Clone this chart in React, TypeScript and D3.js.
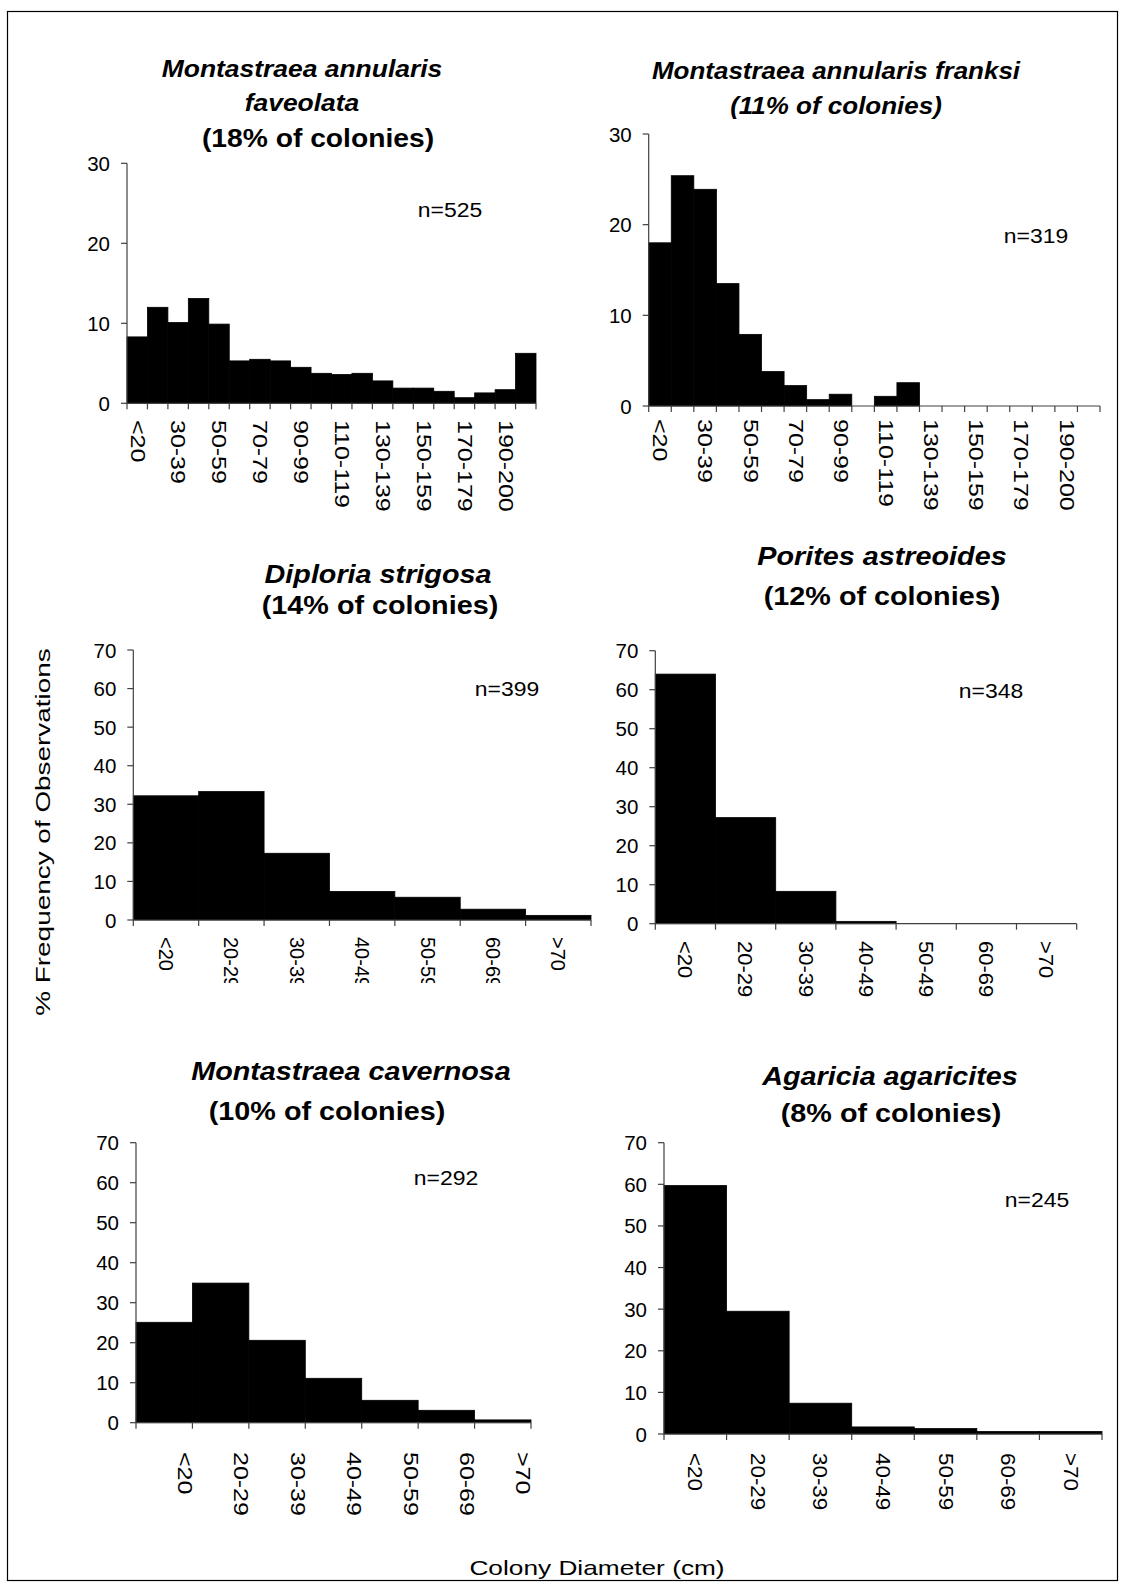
import * as d3 from "d3";

// size classes (cm)
const largeClasses = [
  "<20", "20-29", "30-39", "40-49", "50-59", "60-69", "70-79", "80-89", "90-99", "100-109",
  "110-119", "120-129", "130-139", "140-149", "150-159", "160-169", "170-179", "180-189", "190-200", ">200",
];
const smallClasses = ["<20", "20-29", "30-39", "40-49", "50-59", "60-69", ">70"];
const poritesClasses = ["<20", "20-29", "30-39", "40-49", "50-49", "60-69", ">70"];

// % frequency of observations
const faveolataPct = [8.3, 12.0, 10.1, 13.1, 9.9, 5.3, 5.5, 5.3, 4.5, 3.75, 3.6, 3.75, 2.8, 1.9, 1.9, 1.5, 0.7, 1.3, 1.7, 6.25];
const franksiPct = [18.0, 25.4, 23.9, 13.5, 7.9, 3.8, 2.25, 0.7, 1.3, 0, 1.07, 2.57, 0, 0, 0, 0, 0, 0, 0, 0];
const strigosaPct = [32.2, 33.3, 17.3, 7.4, 5.9, 2.8, 1.2];
const astreoidesPct = [64.0, 27.2, 8.3, 0.6, 0, 0, 0];
const cavernosaPct = [25.1, 34.9, 20.6, 11.1, 5.6, 3.1, 0.7];
const agaricitesPct = [59.7, 29.5, 7.4, 1.7, 1.3, 0.6, 0.6];

const FONT = '"Liberation Sans", Arial, Helvetica, sans-serif';
const AXIS = "#404040";

type Line = { text: string; italic: boolean; x: number; y: number; size: number; sx: number };

interface PanelSpec {
  id: string;
  labels: string[];
  values: number[];
  yMax: number;
  left: number;
  right: number;
  bottom: number;
  top: number;
  labelEvery: number;
  labelPos: number;
  labelTop: number;
  labelStretch: number;
  labelClip?: number;
  title: Line[];
  n: string;
  nx: number;
  ny: number;
}

const panels: PanelSpec[] = [
  {
    id: "p1", labels: largeClasses, values: faveolataPct, yMax: 30,
    left: 127, right: 536, bottom: 403.3, top: 163.3,
    labelEvery: 2, labelPos: 0.5, labelTop: 420, labelStretch: 1.25,
    title: [
      { text: "Montastraea annularis", italic: true, x: 302, y: 77, size: 23, sx: 1.15 },
      { text: "faveolata", italic: true, x: 302, y: 111, size: 23, sx: 1.15 },
      { text: "(18% of colonies)", italic: false, x: 318, y: 147, size: 25, sx: 1.13 },
    ],
    n: "n=525", nx: 450, ny: 217,
  },
  {
    id: "p2", labels: largeClasses, values: franksiPct, yMax: 30,
    left: 648.7, right: 1100, bottom: 406, top: 134,
    labelEvery: 2, labelPos: 0.5, labelTop: 419, labelStretch: 1.25,
    title: [
      { text: "Montastraea annularis franksi", italic: true, x: 836, y: 79, size: 23, sx: 1.13 },
      { text: "(11% of colonies)", italic: true, x: 836, y: 114, size: 23, sx: 1.13 },
    ],
    n: "n=319", nx: 1036, ny: 243,
  },
  {
    id: "p3", labels: smallClasses, values: strigosaPct, yMax: 70,
    left: 133.3, right: 591, bottom: 920, top: 650,
    labelEvery: 1, labelPos: 0.5, labelTop: 937, labelStretch: 1.0, labelClip: 983,
    title: [
      { text: "Diploria strigosa", italic: true, x: 378, y: 583, size: 25, sx: 1.15 },
      { text: "(14% of colonies)", italic: false, x: 380, y: 614, size: 25, sx: 1.15 },
    ],
    n: "n=399", nx: 507, ny: 696,
  },
  {
    id: "p4", labels: poritesClasses, values: astreoidesPct, yMax: 70,
    left: 655.3, right: 1076.7, bottom: 923.7, top: 650.7,
    labelEvery: 1, labelPos: 0.5, labelTop: 941, labelStretch: 1.1,
    title: [
      { text: "Porites astreoides", italic: true, x: 882, y: 565, size: 25, sx: 1.15 },
      { text: "(12% of colonies)", italic: false, x: 882, y: 605, size: 25, sx: 1.15 },
    ],
    n: "n=348", nx: 991, ny: 698,
  },
  {
    id: "p5", labels: smallClasses, values: cavernosaPct, yMax: 70,
    left: 136, right: 531, bottom: 1422.7, top: 1142.7,
    labelEvery: 1, labelPos: 0.86, labelTop: 1452, labelStretch: 1.25,
    title: [
      { text: "Montastraea cavernosa", italic: true, x: 351, y: 1080, size: 25, sx: 1.15 },
      { text: "(10% of colonies)", italic: false, x: 327, y: 1120, size: 25, sx: 1.15 },
    ],
    n: "n=292", nx: 446, ny: 1185,
  },
  {
    id: "p6", labels: smallClasses, values: agaricitesPct, yMax: 70,
    left: 664, right: 1102, bottom: 1434, top: 1142.7,
    labelEvery: 1, labelPos: 0.5, labelTop: 1453, labelStretch: 1.12,
    title: [
      { text: "Agaricia agaricites", italic: true, x: 890, y: 1085, size: 25, sx: 1.15 },
      { text: "(8% of colonies)", italic: false, x: 891, y: 1122, size: 25, sx: 1.15 },
    ],
    n: "n=245", nx: 1037, ny: 1207,
  },
];

function Panel({ p }: { p: PanelSpec }) {
  const x = d3.scaleBand<string>().domain(p.labels).range([p.left, p.right]).padding(0);
  const y = d3.scaleLinear().domain([0, p.yMax]).range([p.bottom, p.top]);
  const bw = x.bandwidth();
  const yTicks = d3.range(0, p.yMax + 1, 10);
  const xTicks = p.labels.map((l) => x(l)!).concat([p.right]);
  const clipId = `clip-${p.id}`;

  return (
    <g>
      {p.title.map((t, i) => (
        <text
          key={i}
          transform={`translate(${t.x},${t.y}) scale(${t.sx},1)`}
          textAnchor="middle"
          fontSize={t.size}
          fontWeight="bold"
          fontStyle={t.italic ? "italic" : "normal"}
        >
          {t.text}
        </text>
      ))}

      {p.values.map((v, i) =>
        v > 0 ? (
          <rect
            key={i}
            x={x(p.labels[i])!}
            y={y(v)}
            width={bw}
            height={p.bottom - y(v)}
            fill="#000"
            stroke="#000"
            strokeWidth={0.8}
          />
        ) : null
      )}

      {/* y axis */}
      <line x1={p.left} x2={p.left} y1={p.top} y2={p.bottom} stroke={AXIS} strokeWidth={1.2} />
      {yTicks.map((t) => (
        <g key={t}>
          <line x1={p.left - 6} x2={p.left} y1={y(t)} y2={y(t)} stroke={AXIS} strokeWidth={1.2} />
          <text x={p.left - 17} y={y(t)} textAnchor="end" dominantBaseline="central" fontSize={20.5}>
            {t}
          </text>
        </g>
      ))}

      {/* x axis */}
      <line x1={p.left} x2={p.right} y1={p.bottom} y2={p.bottom} stroke={AXIS} strokeWidth={1.2} />
      {xTicks.map((tx, i) => (
        <line key={i} x1={tx} x2={tx} y1={p.bottom} y2={p.bottom + 6} stroke={AXIS} strokeWidth={1.2} />
      ))}

      {p.labelClip !== undefined && (
        <clipPath id={clipId}>
          <rect x={p.left - 20} y={p.bottom} width={p.right - p.left + 40} height={p.labelClip - p.bottom} />
        </clipPath>
      )}
      <g clipPath={p.labelClip !== undefined ? `url(#${clipId})` : undefined}>
        {p.labels.map((l, i) =>
          i % p.labelEvery === 0 ? (
            <text
              key={l}
              transform={`translate(${x(l)! + bw * p.labelPos},${p.labelTop}) rotate(90) scale(${p.labelStretch},1)`}
              dominantBaseline="central"
              fontSize={20}
            >
              {l}
            </text>
          ) : null
        )}
      </g>

      <text transform={`translate(${p.nx},${p.ny}) scale(1.12,1)`} textAnchor="middle" fontSize={20.5}>
        {p.n}
      </text>
    </g>
  );
}

export default function App() {
  return (
    <svg
      width={1125}
      height={1588}
      style={{ position: "absolute", left: 0, top: 0, background: "#fff" }}
      fontFamily={FONT}
    >
      <rect x={0} y={0} width={1125} height={1588} fill="#fff" />
      <rect x={7.5} y={11.5} width={1110} height={1569} fill="none" stroke="#000" strokeWidth={1.2} />
      {panels.map((p) => (
        <Panel key={p.id} p={p} />
      ))}
      <text
        transform="translate(50,832) rotate(-90) scale(1.33,1)"
        textAnchor="middle"
        fontSize={21}
      >
        % Frequency of Observations
      </text>
      <text transform="translate(597,1575) scale(1.25,1)" textAnchor="middle" fontSize={21}>
        Colony Diameter (cm)
      </text>
    </svg>
  );
}
